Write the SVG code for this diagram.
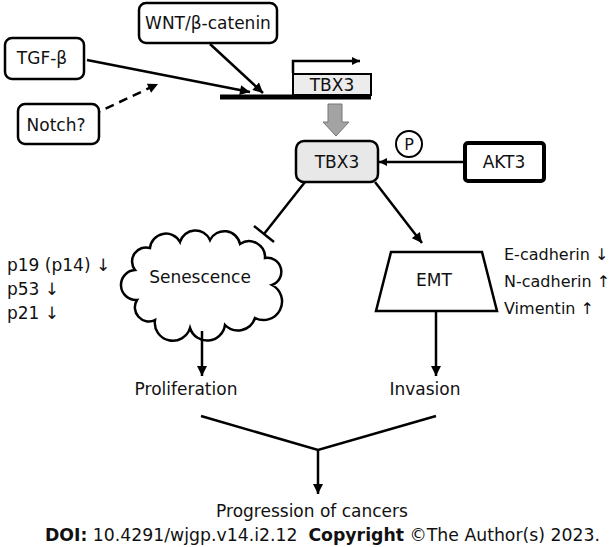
<svg xmlns="http://www.w3.org/2000/svg" width="613" height="547" viewBox="0 0 613 547">
<style>
text{font-family:"DejaVu Sans","Verdana",sans-serif;font-size:17px;fill:#111}
.box{fill:#fff;stroke:#000;stroke-width:2.5}
.gbox{fill:#e8e8e8;stroke:#000;stroke-width:2.5}
.ln{fill:none;stroke:#000;stroke-width:2.5}
.mid{text-anchor:middle}
.side{font-size:16px}
</style>
<defs>
<marker id="ah" viewBox="0 0 10 10" refX="10" refY="5" markerWidth="11" markerHeight="10" markerUnits="userSpaceOnUse" orient="auto">
<path d="M0,0 L10,5 L0,10 Z" fill="#000"/>
</marker>
<marker id="ahs" viewBox="0 0 10 10" refX="10" refY="5" markerWidth="9" markerHeight="8" markerUnits="userSpaceOnUse" orient="auto">
<path d="M0,0 L10,5 L0,10 Z" fill="#000"/>
</marker>
</defs>

<g id="connectors">
<line class="ln" x1="87" y1="60" x2="250" y2="92" marker-end="url(#ah)"/>
<line class="ln" x1="210" y1="44" x2="263" y2="93" marker-end="url(#ah)"/>
<line class="ln" x1="92" y1="115" x2="158" y2="84" stroke-dasharray="9,6" marker-end="url(#ah)"/>
<path class="ln" d="M293,73 V61 H360" stroke-width="2" marker-end="url(#ahs)"/>
<polygon points="328,104 342,104 342,122 349,122 336,136 323,122 328,122" fill="#a3a3a3" stroke="#777" stroke-width="1"/>
<line class="ln" x1="464" y1="162" x2="379" y2="162" marker-end="url(#ahs)"/>
<line class="ln" x1="305" y1="182" x2="264" y2="234"/>
<line class="ln" x1="254" y1="226" x2="274" y2="242"/>
<line class="ln" x1="375" y1="182" x2="422" y2="243" marker-end="url(#ah)"/>
<line class="ln" x1="202" y1="331" x2="202" y2="376" marker-end="url(#ah)"/>
<line class="ln" x1="436" y1="311" x2="436" y2="376" marker-end="url(#ah)"/>
<polyline class="ln" points="201,416 318,450 436,416"/>
<line class="ln" x1="318" y1="450" x2="318" y2="494" marker-end="url(#ah)"/>
</g>

<g id="wnt">
<rect class="box" x="139" y="3" width="138" height="40" rx="7"/>
<text class="mid" x="208" y="29">WNT/β-catenin</text>
</g>
<g id="tgfb">
<rect class="box" x="5" y="38" width="79" height="41" rx="7"/>
<text class="mid" x="42" y="64">TGF-β</text>
</g>
<g id="notch">
<rect class="box" x="18" y="104" width="81" height="40" rx="7"/>
<text class="mid" x="56" y="131">Notch?</text>
</g>
<g id="tbx3-gene">
<line x1="220" y1="97" x2="371" y2="97" stroke="#000" stroke-width="5"/>
<rect x="293" y="74" width="78" height="21" fill="#ececec" stroke="#000" stroke-width="2"/>
<text class="mid" x="332" y="91">TBX3</text>
</g>
<g id="tbx3-protein">
<rect class="gbox" x="296" y="141" width="82" height="41" rx="8"/>
<text class="mid" x="337" y="168">TBX3</text>
</g>
<g id="p">
<circle cx="409" cy="144" r="13" fill="#fff" stroke="#000" stroke-width="2"/>
<text class="mid" x="409" y="150" style="font-size:16px">P</text>
</g>
<g id="akt3">
<rect x="465" y="143" width="79" height="38" rx="3" fill="#fff" stroke="#000" stroke-width="4"/>
<text class="mid" x="504" y="168">AKT3</text>
</g>
<g id="senescence">
<path class="ln" fill="#fff" d="M135,270 A14,14 0 0 1 150,248 A16,16 0 0 1 180,242 A16,16 0 0 1 210,240 A16,16 0 0 1 240,244 A16,16 0 0 1 265,258 A14,14 0 0 1 272,285 A16,16 0 0 1 255,318 A18,18 0 0 1 225,325 A18,18 0 0 1 190,328 A18,18 0 0 1 155,320 A14,14 0 0 1 137,300 A12,12 0 0 1 135,270 Z"/>
<text class="mid" x="200" y="283">Senescence</text>
</g>
<g id="emt">
<polygon class="box" points="391,252 482,252 497,311 376,311"/>
<text class="mid" x="434" y="286">EMT</text>
</g>
<g id="markers-left">
<text x="7" y="271">p19 (p14) ↓</text>
<text x="7" y="295">p53 ↓</text>
<text x="7" y="319">p21 ↓</text>
</g>
<g id="markers-right">
<text class="side" x="504" y="260">E-cadherin ↓</text>
<text class="side" x="504" y="287">N-cadherin ↑</text>
<text class="side" x="504" y="314">Vimentin ↑</text>
</g>
<g id="proliferation"><text class="mid" x="186" y="395">Proliferation</text></g>
<g id="invasion"><text class="mid" x="425" y="395">Invasion</text></g>
<g id="progression"><text class="mid" x="312" y="517">Progression of cancers</text></g>
<text x="45" y="541" style="font-size:17px" textLength="555" lengthAdjust="spacingAndGlyphs" xml:space="preserve"><tspan font-weight="bold">DOI:</tspan> 10.4291/wjgp.v14.i2.12  <tspan font-weight="bold">Copyright</tspan> ©The Author(s) 2023.</text>
</svg>
